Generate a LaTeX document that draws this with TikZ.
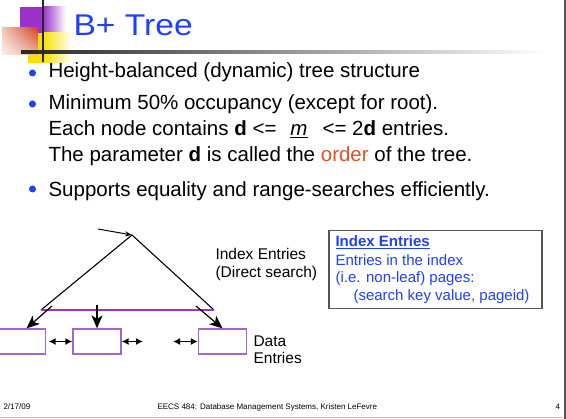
\documentclass[tikz,border=0pt]{standalone}
\usepackage{fontspec}
\setmainfont{Liberation Sans}
\usetikzlibrary{arrows.meta, positioning, calc, shadings}
\definecolor{cblue}{HTML}{1F3FFF}
\definecolor{cpurple}{HTML}{9933CC}
\definecolor{cleaf}{HTML}{A862D2}
\definecolor{corange}{HTML}{E0531E}
\definecolor{cgrey}{HTML}{555555}
\definecolor{cyellow}{HTML}{F7E000}
\definecolor{cred}{HTML}{D4421C}
\tikzset{
  every picture/.style={line width=1.1pt},
  leaf/.style={draw=cleaf, line width=1.3pt, minimum width=48pt, minimum height=25pt, inner sep=0pt},
  ptr/.style={-{Stealth[length=13pt, width=11pt, inset=3.5pt]}, draw=black, line width=1.2pt},
  feedptr/.style={-{Stealth[length=7pt, width=5pt]}, draw=black, line width=1pt},
  sib/.style={{Latex[length=7pt, width=7pt]}-{Latex[length=7pt, width=7pt]}, line width=1.5pt},
  item/.style={anchor=base west, inner sep=0pt, font=\fontsize{20.5}{24}\selectfont},
  dot/.style={circle, fill=cblue, minimum size=7pt, inner sep=0pt},
  lbl/.style={anchor=base west, inner sep=0pt, font=\fontsize{15.5}{18}\selectfont},
  boxtext/.style={anchor=base west, inner sep=0pt, text=cblue, font=\fontsize{15}{18}\selectfont},
  foot/.style={anchor=base west, inner sep=0pt, font=\fontsize{8}{10}\selectfont},
}

\begin{document}
\begin{tikzpicture}[x=1pt, y=-1pt]
  \useasboundingbox (0,0) rectangle (566,419);

  % corner blocks and title rules
  \fill[cpurple] (20,7) rectangle (43,33);
  \shade[left color=cpurple, right color=white] (43,7) rectangle (66,33);
  \fill[cyellow] (28,33) rectangle (43,63);
  \shade[left color=cyellow, right color=white] (43,33) rectangle (72,63);
  \shade[upper right=cred, upper left=cred!30, lower right=cred!40, lower left=cred!8] (2,28) rectangle (38,55);
  \shade[left color=black!85, right color=white] (21,50.5) rectangle (545,53.5);
  \draw[black!85, line width=2pt] (43,0) -- (43,62);
  \node[anchor=base west, inner sep=0pt, text=cblue, font=\fontsize{30}{36}\selectfont] (title) at (73,36) {\scalebox{1.12}[1]{B+ Tree}};

  % bullet list
  \node[dot] (d1) at (32.5,73) {};
  \node[item] (b1) at (48,78) {Height-balanced (dynamic) tree structure};
  \node[dot] (d2) at (32.5,104) {};
  \node[item] (b2) at (48,110) {Minimum 50\% occupancy (except for root).};
  \node[item] (b2b) at (48,136) {Each node contains \textbf{d} <=\hspace{14pt}\underline{\textit{m}}\hspace{15pt}<= 2\textbf{d} entries.};
  \node[item] (b2c) at (48,162) {The parameter \textbf{d} is called the \textcolor{corange}{order} of the tree.};
  \node[dot] (d3) at (32.5,189) {};
  \node[item] (b3) at (48,197) {Supports equality and range-searches efficiently.};

  % index part of the tree
  \coordinate (root) at (132,235);
  \coordinate (feed) at (98,229);
  \coordinate (barL) at (41,310);
  \coordinate (barR) at (214,310);
  \draw[feedptr] (feed) -- (root);
  \draw (root) -- (barL);
  \draw (root) -- (barR);
  \draw[cpurple, line width=2pt] (barL) -- (barR);

  % leaf pages
  \node[leaf] (leafA) at (21.5,341.5) {};
  \node[leaf] (leafB) at (97,341.5) {};
  \node[leaf] (leafC) at (222.5,341.5) {};
  \coordinate (ptrA) at (52,306);
  \coordinate (ptrB) at (97,305);
  \coordinate (ptrC) at (196,306);
  \draw[ptr] (ptrA) -- ([xshift=5pt]leafA.north);
  \draw[ptr] (ptrB) -- (leafB.north);
  \draw[ptr] (ptrC) -- (leafC.north);
  \coordinate (gapL) at (143,341.5);
  \coordinate (gapR) at (173,341.5);
  \draw[sib] ([xshift=2.5pt]leafA.east) -- (leafB.west);
  \draw[sib] (leafB.east) -- (gapL);
  \draw[sib] (gapR) -- (leafC.west);

  % labels
  \node[lbl] (idx1) at (215,260) {Index Entries};
  \node[lbl] (idx2) at (215,278) {(Direct search)};
  \node[lbl] (dat1) at (253,347) {Data};
  \node[lbl] (dat2) at (253,364) {Entries};

  % legend box
  \node[draw=cgrey, line width=1.5pt, minimum width=213pt, minimum height=78pt, inner sep=0pt, anchor=north west] (keybox) at (328,230) {};
  \node[boxtext, font=\fontsize{15}{18}\selectfont\bfseries] (key1) at (335,247) {\underline{Index Entries}};
  \node[boxtext] (key2) at (335,265.5) {Entries in the index};
  \node[boxtext] (key3) at (335,283) {(i.e. non-leaf) pages:};
  \node[boxtext] (key4) at (353,300.5) {(search key value, pageid)};

  % footer and slide edges
  \node[foot] (date) at (3,410) {2/17/09};
  \node[foot] (course) at (157,410) {EECS 484: Database Management Systems, Kristen LeFevre};
  \node[foot] (pageno) at (555,410) {4};
  \draw[black!25, line width=1pt] (0,417.5) -- (563,417.5);
  \draw[cgrey, line width=2pt] (564.5,0) -- (564.5,419);
\end{tikzpicture}
\end{document}
